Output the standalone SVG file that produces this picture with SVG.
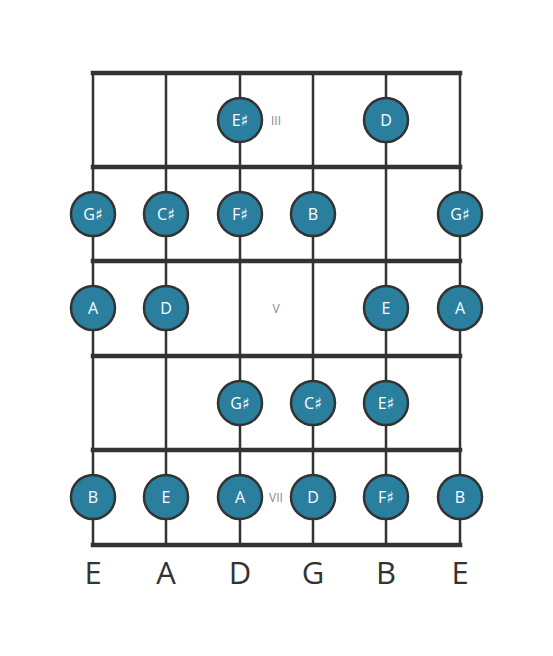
<svg xmlns="http://www.w3.org/2000/svg" width="553" height="656" viewBox="0 0 553 656">
<style>
.fret{stroke:#333;stroke-width:4.5;stroke-linecap:square}
.str{stroke:#333;stroke-width:2.5}
.note circle{fill:#2a7f9e;stroke:#333;stroke-width:2.5}
.note text{fill:#fff;font-family:"Open Sans","DejaVu Sans",sans-serif;font-size:16px;text-anchor:middle;dominant-baseline:central}
.mark{fill:#888;font-family:"Open Sans","DejaVu Sans",sans-serif;font-size:12px;text-anchor:middle;dominant-baseline:central}
.lbl{fill:#333;font-family:"Open Sans","DejaVu Sans",sans-serif;font-size:31px;text-anchor:middle}
</style>
<rect width="553" height="656" fill="#fff"/>
<g id="connectors">
<line class="str" x1="93" y1="73" x2="93" y2="545"/>
<line class="str" x1="166" y1="73" x2="166" y2="545"/>
<line class="str" x1="240" y1="73" x2="240" y2="545"/>
<line class="str" x1="313" y1="73" x2="313" y2="545"/>
<line class="str" x1="386" y1="73" x2="386" y2="545"/>
<line class="str" x1="460" y1="73" x2="460" y2="545"/>
<line class="fret" x1="93" y1="73" x2="460" y2="73"/>
<line class="fret" x1="93" y1="167" x2="460" y2="167"/>
<line class="fret" x1="93" y1="261" x2="460" y2="261"/>
<line class="fret" x1="93" y1="356" x2="460" y2="356"/>
<line class="fret" x1="93" y1="450" x2="460" y2="450"/>
<line class="fret" x1="93" y1="545" x2="460" y2="545"/>
</g>
<g id="markers">
<text class="mark" x="276" y="120">III</text>
<text class="mark" x="276" y="308">V</text>
<text class="mark" x="276" y="497">VII</text>
</g>
<g id="n1" class="note"><circle cx="240" cy="120" r="22"/><text x="240" y="120">E♯</text></g>
<g id="n2" class="note"><circle cx="386" cy="120" r="22"/><text x="386" y="120">D</text></g>
<g id="n3" class="note"><circle cx="93" cy="214" r="22"/><text x="93" y="214">G♯</text></g>
<g id="n4" class="note"><circle cx="166" cy="214" r="22"/><text x="166" y="214">C♯</text></g>
<g id="n5" class="note"><circle cx="240" cy="214" r="22"/><text x="240" y="214">F♯</text></g>
<g id="n6" class="note"><circle cx="313" cy="214" r="22"/><text x="313" y="214">B</text></g>
<g id="n7" class="note"><circle cx="460" cy="214" r="22"/><text x="460" y="214">G♯</text></g>
<g id="n8" class="note"><circle cx="93" cy="308" r="22"/><text x="93" y="308">A</text></g>
<g id="n9" class="note"><circle cx="166" cy="308" r="22"/><text x="166" y="308">D</text></g>
<g id="n10" class="note"><circle cx="386" cy="308" r="22"/><text x="386" y="308">E</text></g>
<g id="n11" class="note"><circle cx="460" cy="308" r="22"/><text x="460" y="308">A</text></g>
<g id="n12" class="note"><circle cx="240" cy="403" r="22"/><text x="240" y="403">G♯</text></g>
<g id="n13" class="note"><circle cx="313" cy="403" r="22"/><text x="313" y="403">C♯</text></g>
<g id="n14" class="note"><circle cx="386" cy="403" r="22"/><text x="386" y="403">E♯</text></g>
<g id="n15" class="note"><circle cx="93" cy="497" r="22"/><text x="93" y="497">B</text></g>
<g id="n16" class="note"><circle cx="166" cy="497" r="22"/><text x="166" y="497">E</text></g>
<g id="n17" class="note"><circle cx="240" cy="497" r="22"/><text x="240" y="497">A</text></g>
<g id="n18" class="note"><circle cx="313" cy="497" r="22"/><text x="313" y="497">D</text></g>
<g id="n19" class="note"><circle cx="386" cy="497" r="22"/><text x="386" y="497">F♯</text></g>
<g id="n20" class="note"><circle cx="460" cy="497" r="22"/><text x="460" y="497">B</text></g>
<g id="labels">
<text class="lbl" x="93" y="584">E</text>
<text class="lbl" x="166" y="584">A</text>
<text class="lbl" x="240" y="584">D</text>
<text class="lbl" x="313" y="584">G</text>
<text class="lbl" x="386" y="584">B</text>
<text class="lbl" x="460" y="584">E</text>
</g>
</svg>
